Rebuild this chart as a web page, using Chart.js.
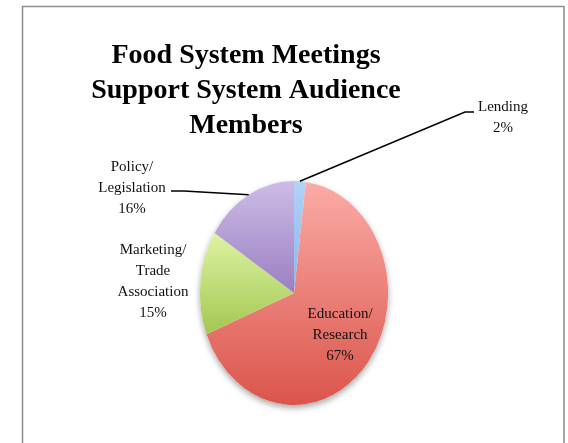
<!DOCTYPE html>
<html>
<head>
<meta charset="utf-8">
<script src="https://cdn.jsdelivr.net/npm/chart.js@4.4.0/dist/chart.umd.min.js"></script>
<style>
  html, body { margin: 0; padding: 0; background: #fff; }
</style>
</head>
<body>
<canvas id="myChart" width="568" height="443"></canvas>
<script>
var categorias = ['Lending', 'Education/Research', 'Marketing/Trade Association', 'Policy/Legislation'];
var rotulos = [['Lending'], ['Education/', 'Research'], ['Marketing/', 'Trade', 'Association'], ['Policy/', 'Legislation']];
var percentuais = [2, 67, 15, 16];
var titulo = ['Food System Meetings', 'Support System Audience', 'Members'];

// gradient top / bottom for each slice
var coresTopo = ['#b2d2f8', '#fbaba6', '#dcf3a3', '#cebce7'];
var coresBase = ['#8bb5ea', '#da554b', '#a4c752', '#9a7fc1'];

// the pie is drawn as an ellipse: x is squeezed around the centre
var ESCALA_X = 0.84;

// where the outside labels sit (centre of first line) and where their leader starts
var posRotulos = [
  { x: 503, y: 107, linha: [[474, 112], [465, 112]] },
  null,
  { x: 153, y: 250, linha: null },
  { x: 132, y: 167, linha: [[171, 191], [184, 191]] }
];
var ALTURA_LINHA = 21;

// y range of one slice, so each slice gets its own gradient
function faixaFatia(cy, r, a0, a1) {
  var ys = [cy, cy + r * Math.sin(a0), cy + r * Math.sin(a1)];
  [-Math.PI / 2, Math.PI / 2, 3 * Math.PI / 2].forEach(function (a) {
    if (a > a0 && a < a1) ys.push(cy + r * Math.sin(a));
  });
  return [Math.min.apply(null, ys), Math.max.apply(null, ys)];
}

function corFatia(context) {
  var chart = context.chart;
  var area = chart.chartArea;
  var i = context.dataIndex;
  if (!area) return coresTopo[i];
  var cy = (area.top + area.bottom) / 2;
  var r = Math.min(area.right - area.left, area.bottom - area.top) / 2;
  var total = percentuais.reduce(function (s, v) { return s + v; }, 0);
  var antes = 0;
  for (var k = 0; k < i; k++) antes += percentuais[k];
  var a0 = -Math.PI / 2 + antes / total * Math.PI * 2;
  var a1 = a0 + percentuais[i] / total * Math.PI * 2;
  var faixa = faixaFatia(cy, r, a0, a1);
  var g = chart.ctx.createLinearGradient(0, faixa[0], 0, faixa[1]);
  g.addColorStop(0, coresTopo[i]);
  g.addColorStop(1, coresBase[i]);
  return g;
}

// squeeze the pie into an ellipse and put a soft shadow under it
var elipse = {
  id: 'elipse',
  beforeDatasetsDraw: function (chart) {
    var arc = chart.getDatasetMeta(0).data[0];
    var ctx = chart.ctx;
    ctx.save();
    ctx.translate(arc.x, arc.y);
    ctx.scale(ESCALA_X, 1);
    ctx.translate(-arc.x, -arc.y);
    ctx.save();
    ctx.shadowColor = 'rgba(0,0,0,0.35)';
    ctx.shadowBlur = 6;
    ctx.shadowOffsetY = 3;
    ctx.beginPath();
    ctx.arc(arc.x, arc.y, arc.outerRadius, 0, Math.PI * 2);
    ctx.fillStyle = '#ffffff';
    ctx.fill();
    ctx.restore();
  },
  afterDatasetsDraw: function (chart) {
    chart.ctx.restore();
  }
};

// title, labels, leader lines and the frame
var textos = {
  id: 'textos',
  afterDraw: function (chart) {
    var ctx = chart.ctx;
    var arcos = chart.getDatasetMeta(0).data;
    ctx.save();

    ctx.fillStyle = '#000000';
    ctx.textAlign = 'center';
    ctx.textBaseline = 'alphabetic';
    ctx.font = 'bold 28px "Liberation Serif"';
    titulo.forEach(function (t, n) {
      ctx.fillText(t, 246, 63 + n * 35);
    });

    ctx.font = '15px "Liberation Serif"';
    ctx.textBaseline = 'middle';
    ctx.fillStyle = '#111111';
    arcos.forEach(function (arc, i) {
      var linhas = rotulos[i].concat([percentuais[i] + '%']);
      var meio = (arc.startAngle + arc.endAngle) / 2;
      var pos = posRotulos[i];
      var x, y;
      if (pos) {
        x = pos.x;
        y = pos.y;
      } else {
        // label inside the slice
        var rr = arc.outerRadius * 0.62;
        x = arc.x + Math.cos(meio) * rr * ESCALA_X;
        y = arc.y + Math.sin(meio) * rr - (linhas.length - 1) / 2 * ALTURA_LINHA;
      }
      linhas.forEach(function (l, n) {
        ctx.fillText(l, x, y + n * ALTURA_LINHA);
      });

      if (pos && pos.linha) {
        var bx = arc.x + Math.cos(meio) * arc.outerRadius * ESCALA_X;
        var by = arc.y + Math.sin(meio) * arc.outerRadius;
        ctx.beginPath();
        ctx.moveTo(pos.linha[0][0], pos.linha[0][1]);
        ctx.lineTo(pos.linha[1][0], pos.linha[1][1]);
        ctx.lineTo(bx, by);
        ctx.strokeStyle = '#000000';
        ctx.lineWidth = 1.5;
        ctx.stroke();
      }
    });

    // frame
    ctx.beginPath();
    ctx.moveTo(22.5, 443);
    ctx.lineTo(22.5, 6.5);
    ctx.lineTo(564, 6.5);
    ctx.lineTo(564, 443);
    ctx.strokeStyle = '#8f8f8f';
    ctx.lineWidth = 1.6;
    ctx.stroke();

    ctx.restore();
  }
};

var myChart = new Chart(document.getElementById('myChart').getContext('2d'), {
  type: 'pie',
  data: {
    labels: categorias,
    datasets: [{
      data: percentuais,
      backgroundColor: corFatia,
      borderWidth: 0
    }]
  },
  options: {
    responsive: false,
    animation: false,
    events: [],
    layout: { padding: { left: 182, right: 162, top: 181, bottom: 38 } },
    plugins: {
      legend: { display: false },
      tooltip: { enabled: false },
      title: { display: false }
    }
  },
  plugins: [elipse, textos]
});
</script>
</body>
</html>
